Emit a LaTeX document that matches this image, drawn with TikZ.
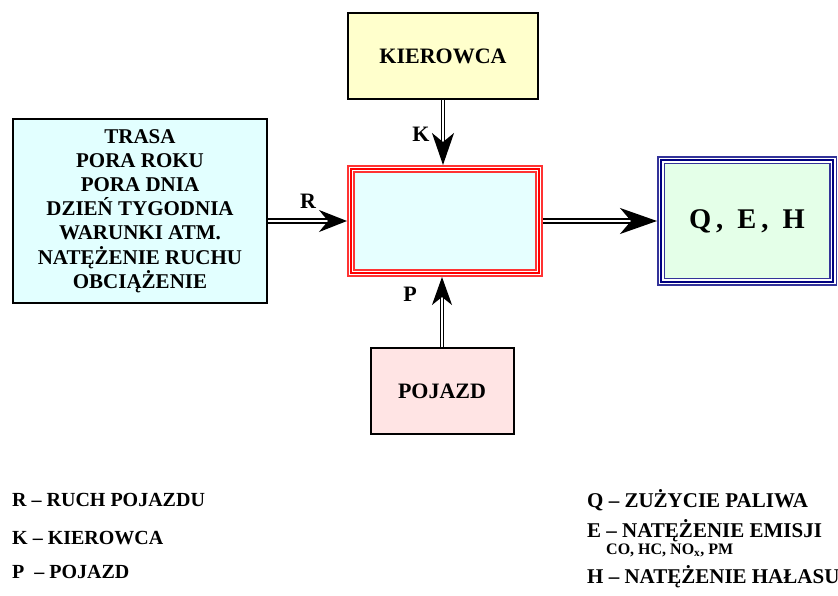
\documentclass[tikz,border=0pt]{standalone}
\usepackage{fontspec}
\setmainfont{Liberation Serif}
\usetikzlibrary{arrows.meta}

\definecolor{lightyellow}{HTML}{FFFFCC}
\definecolor{lightcyan}{HTML}{E2FFFF}
\definecolor{procfill}{HTML}{E6FFFF}
\definecolor{lightgreen}{HTML}{E4FFE8}
\definecolor{lightpink}{HTML}{FFE4E4}
\definecolor{frameblue}{HTML}{000080}

\tikzset{
    box/.style={draw=black, line width=2pt, inner sep=0pt},
    redframe/.style={draw=red!80, line width=8pt, inner sep=0pt, outer sep=4pt,
        postaction={draw=white, line width=4.5pt},
        postaction={draw=red, line width=1.8pt}},
    blueframe/.style={draw=frameblue!80, line width=8pt, inner sep=0pt, outer sep=4pt,
        postaction={draw=white, line width=5pt},
        postaction={draw=frameblue, line width=2pt}},
    flow/.style={double, line width=1.6pt, double distance=2.4pt},
    thinflow/.style={double, line width=1.3pt, double distance=2pt},
    lbl/.style={font=\bfseries\fontsize{22}{26}\selectfont},
    legend/.style={anchor=base west, inner sep=0pt, font=\bfseries\fontsize{20}{24}\selectfont},
    legendr/.style={legend, font=\bfseries\fontsize{21}{24}\selectfont}
}

\begin{document}
\begin{tikzpicture}[x=1pt, y=-1pt]
    \useasboundingbox (0,0) rectangle (838,596);

    % boxes
    \node[box, fill=lightyellow, minimum width=190pt, minimum height=86pt,
        font=\bfseries\fontsize{22}{26}\selectfont] (kier) at (443,56) {KIEROWCA};
    \node[box, fill=lightcyan, minimum width=254pt, minimum height=184pt, align=center,
        font=\bfseries\fontsize{21}{24.2}\selectfont] (cond) at (140,211)
        {TRASA\\PORA ROKU\\PORA DNIA\\DZIEŃ TYGODNIA\\WARUNKI ATM.\\NATĘŻENIE RUCHU\\OBCIĄŻENIE};
    \node[redframe, fill=procfill, minimum width=188pt, minimum height=104pt] (proc) at (445,221) {};
    \node[blueframe, fill=lightgreen, minimum width=172pt, minimum height=121pt,
        font=\bfseries\fontsize{28.5}{32}\selectfont] (out) at (747,221) {Q\,,\ \ E\,,\ \ H};
    \node[box, fill=lightpink, minimum width=143pt, minimum height=86pt,
        font=\bfseries\fontsize{22}{26}\selectfont] (poj) at (442,391) {POJAZD};

    % connectors
    \draw[flow, -{Stealth[length=28pt, width=22pt, inset=9pt]}] (proc.west -| cond.east) -- (proc.west);
    \draw[flow, -{Stealth[length=37pt, width=26pt, inset=11pt]}] (proc.east) -- (out.west);
    \draw[thinflow, -{Stealth[length=32pt, width=22pt, inset=9pt]}] (kier.south) -- (kier.south |- proc.north);
    \draw[thinflow, -{Stealth[length=28pt, width=20pt, inset=8pt]}] (poj.north) -- (poj.north |- proc.south);

    \node[lbl] (lr) at (308,201) {R};
    \node[lbl] (lk) at (421,134) {K};
    \node[lbl] (lp) at (410,294) {P};

    % legend
    \node[legend] (r) at (12,506) {R – RUCH POJAZDU};
    \node[legend] (k) at (12,544) {K – KIEROWCA};
    \node[legend] (p) at (12,578) {P\ \ – POJAZD};

    \node[legendr] (q) at (587,507) {Q – ZUŻYCIE PALIWA};
    \node[legendr] (e) at (587,537) {E – NATĘŻENIE EMISJI};
    \node[legend, font=\bfseries\fontsize{16}{20}\selectfont] (em) at (606,554) {CO, HC, NO\textsubscript{x}, PM};
    \node[legendr] (h) at (587,583) {H – NATĘŻENIE HAŁASU};
\end{tikzpicture}
\end{document}
